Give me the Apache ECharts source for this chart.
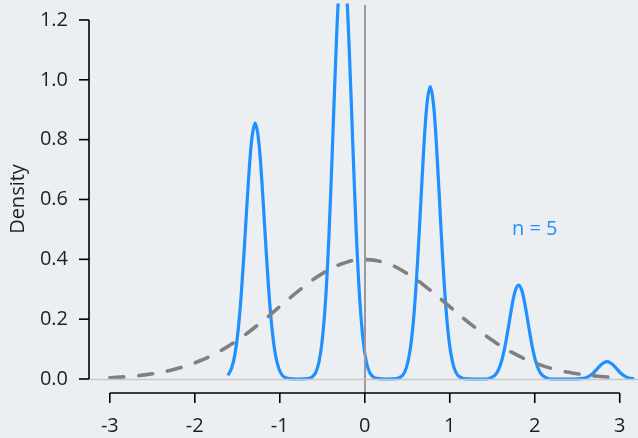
<!DOCTYPE html>
<html><head><meta charset="utf-8">
<script src="https://cdn.jsdelivr.net/npm/echarts@6/dist/echarts.min.js"></script>
<style>html,body{margin:0;padding:0;background:#ECEFF1;} #c{width:638px;height:438px;}</style>
</head><body><div id="c"></div>
<script>
// Blue density curve
const blueX = [-1.61,-1.57,-1.53,-1.49,-1.45,-1.41,-1.37,-1.33,-1.29,-1.25,-1.21,-1.17,-1.13,-1.09,-1.05,-1.01,-0.97,-0.93,-0.89,-0.78,
  -0.66,-0.62,-0.58,-0.54,-0.50,-0.46,-0.42,-0.38,-0.34,-0.30,-0.26,-0.22,-0.18,-0.14,-0.10,-0.06,-0.02,0.02,0.06,0.10,0.14,0.26,
  0.37,0.41,0.45,0.49,0.53,0.57,0.61,0.65,0.69,0.73,0.77,0.81,0.85,0.89,0.93,0.97,1.01,1.05,1.09,1.13,1.17,1.29,
  1.41,1.45,1.49,1.53,1.57,1.61,1.65,1.69,1.73,1.77,1.81,1.85,1.89,1.93,1.97,2.01,2.05,2.09,2.13,2.17,2.21,2.33,
  2.49,2.53,2.57,2.61,2.65,2.69,2.73,2.77,2.81,2.85,2.89,2.93,2.97,3.01,3.05,3.09,3.13,3.17];
const blueY = [0.012,0.034,0.079,0.163,0.297,0.472,0.657,0.800,0.855,0.800,0.657,0.472,0.297,0.163,0.079,0.034,0.012,0.004,0.001,0.000,
  0.002,0.007,0.020,0.055,0.131,0.269,0.489,0.778,1.083,1.320,1.410,1.320,1.083,0.778,0.489,0.269,0.131,0.055,0.020,0.007,0.002,0.000,
  0.001,0.005,0.014,0.038,0.090,0.187,0.339,0.539,0.750,0.914,0.977,0.914,0.750,0.539,0.339,0.187,0.090,0.038,0.014,0.005,0.001,0.000,
  0.000,0.001,0.005,0.012,0.029,0.060,0.109,0.173,0.241,0.294,0.314,0.294,0.241,0.173,0.109,0.060,0.029,0.012,0.005,0.001,0.000,0.000,
  0.000,0.001,0.002,0.005,0.011,0.020,0.032,0.045,0.054,0.058,0.054,0.045,0.032,0.020,0.011,0.005,0.002,0.001];
// Grey dashed reference density
const normX = [-3,-2.75,-2.5,-2.25,-2,-1.75,-1.5,-1.25,-1,-0.75,-0.5,-0.25,0,0.25,0.5,0.75,1,1.25,1.5,1.75,2,2.25,2.5,2.75,3];
const normY = [0.0044,0.0091,0.0175,0.0317,0.054,0.0863,0.1295,0.1826,0.242,0.3011,0.3521,0.3867,0.3989,0.3867,0.3521,0.3011,0.242,0.1826,0.1295,0.0863,0.054,0.0317,0.0175,0.0091,0.0044];
const xTicks = [-3,-2,-1,0,1,2,3];
const yTicks = [0,0.2,0.4,0.6,0.8,1.0,1.2];
const annotation = 'n = 5';
const annotationPos = [2.0, 0.5];
const yTitle = 'Density';

const xMin = -3.245, xMax = 3.215, yMin = -0.0468, yMax = 1.25;
const FONT = '"Open Sans", sans-serif';
const TXT = '#1f1f1f';
const chart = echarts.init(document.getElementById('c'), null, {renderer:'canvas'});
chart.setOption({
  backgroundColor:'#ECEFF1',
  animation:false,
  grid:{left:89,right:0,top:5,bottom:45,outerBoundsMode:'none'},
  xAxis:{type:'value',min:xMin,max:xMax,splitLine:{show:false},axisLine:{show:false,onZero:false},
    axisTick:{show:false},
    axisLabel:{customValues:xTicks,margin:23,color:TXT,fontSize:20,fontFamily:FONT}},
  yAxis:{type:'value',min:yMin,max:yMax,splitLine:{show:false},axisLine:{show:false,onZero:false},
    axisTick:{show:false},
    axisLabel:{customValues:yTicks,formatter:v=>v.toFixed(1),margin:21,color:TXT,fontSize:20,fontFamily:FONT}},
  series:[
    {type:'line',data:[],z:1,markLine:{silent:true,symbol:['none','none'],label:{show:false},animation:false,
      data:[{xAxis:0,lineStyle:{color:'#9a9a9a',width:2,type:'solid'}},{yAxis:0,lineStyle:{color:'#c8c8c8',width:1.3,type:'solid'}}]}},
    {type:'line',data:blueX.map((x,i)=>[x,blueY[i]]),showSymbol:false,smooth:0.35,clip:true,
      lineStyle:{color:'#1E90FF',width:3.2},z:3},
    {type:'line',data:normX.map((x,i)=>[x,normY[i]]),showSymbol:false,smooth:0.5,clip:true,
      lineStyle:{color:'#808080',width:3.6,type:[14,15],cap:'round'},z:4}
  ]
});
const P = v=>chart.convertToPixel({gridIndex:0},v);
const a0 = P([xMin,yTicks[0]]), a1 = P([xMin,yTicks[yTicks.length-1]]);
const b0 = P([xTicks[0],yMin]), b1 = P([xTicks[xTicks.length-1],yMin]);
const panelTop = P([xMin,yMax]);
const ann = P(annotationPos);
const AX = {stroke:'#000',lineWidth:1.6};
const g = [
  {type:'line',shape:{x1:a0[0],y1:a0[1],x2:a1[0],y2:a1[1]},style:AX,z:10},
  {type:'line',shape:{x1:b0[0],y1:b0[1],x2:b1[0],y2:b1[1]},style:AX,z:10},
  {type:'text',x:ann[0],y:ann[1],style:{text:annotation,fill:'#1E90FF',font:'20px '+FONT,align:'center',verticalAlign:'middle'},z:10},
  {type:'text',x:18,y:(panelTop[1]+b0[1])/2,rotation:Math.PI/2,style:{text:yTitle,fill:TXT,font:'20px '+FONT,align:'center',verticalAlign:'middle'},z:10}
];
yTicks.forEach(v=>{const p=P([xMin,v]);g.push({type:'line',shape:{x1:p[0]-10,y1:p[1],x2:p[0],y2:p[1]},style:AX,z:10});});
xTicks.forEach(v=>{const p=P([v,yMin]);g.push({type:'line',shape:{x1:p[0],y1:p[1],x2:p[0],y2:p[1]+10},style:AX,z:10});});
chart.setOption({graphic:g});
</script></body></html>
